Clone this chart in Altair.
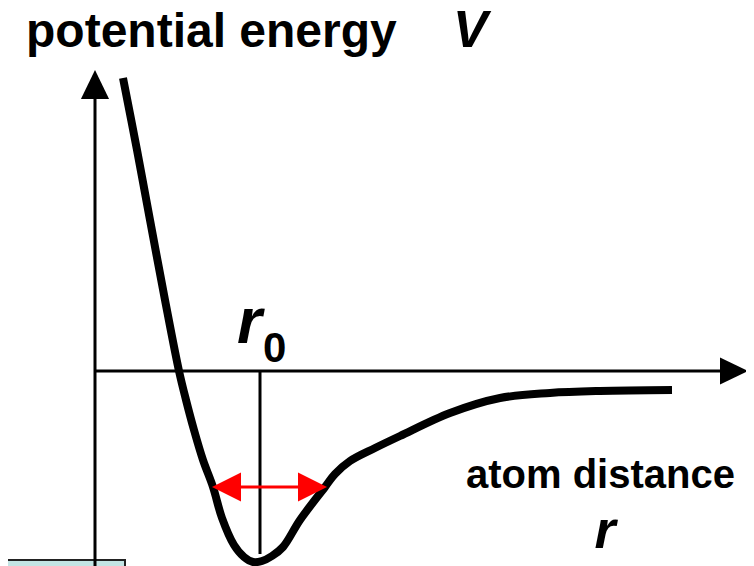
import altair as alt
import pandas as pd

# Potential curve V(r) (arbitrary units, r=0 / V=0 at the axes)
curve_r = [0.28, 0.42, 0.55, 0.70, 0.84, 0.91, 0.99, 1.08, 1.18, 1.27, 1.39, 1.49, 1.58,
           1.67, 1.77, 1.88, 2.05, 2.30, 2.40, 2.55, 2.80, 3.05, 3.55, 4.05, 4.55, 5.05, 5.77]
curve_V = [2.93, 2.21, 1.51, 0.71, 0.00, -0.29, -0.59, -0.89, -1.16, -1.47, -1.74, -1.86, -1.91,
           -1.90, -1.85, -1.76, -1.49, -1.16, -1.03, -0.90, -0.77, -0.65, -0.42, -0.27, -0.22, -0.20, -0.19]

# Equilibrium distance and oscillation range
r0 = 1.65
r0_line_V = [0.0, -1.83]
osc_r = [1.17, 2.32]
osc_V = -1.16

# Axis extents
r_domain = [-0.87, 6.51]
V_domain = [-1.95, 3.63]
y_axis_V = [-1.95, 2.72]
x_axis_r = [0.0, 6.25]

# Texts
title_text = "potential energy"
title_var = "V"
xlabel_text = "atom distance"
xlabel_var = "r"

X = alt.Scale(domain=r_domain, nice=False, zero=False)
Y = alt.Scale(domain=V_domain, nice=False, zero=False)
FONT = "Liberation Sans"


def enc(df, **kw):
    return dict(x=alt.X("r:Q", scale=X, axis=None), y=alt.Y("V:Q", scale=Y, axis=None), **kw)


layers = []

# light blue box at bottom left
box = pd.DataFrame({"r": [r_domain[0] - 0.2], "r2": [0.30], "V": [-1.89], "V2": [-2.6]})
layers.append(alt.Chart(box).mark_rect(fill="#c3e4e4", stroke="#222222", strokeWidth=2, clip=True).encode(
    x=alt.X("r:Q", scale=X, axis=None), x2="r2:Q",
    y=alt.Y("V:Q", scale=Y, axis=None), y2="V2:Q"))

# axes lines
yaxis = pd.DataFrame({"r": [0.0, 0.0], "V": y_axis_V})
layers.append(alt.Chart(yaxis).mark_line(color="black", strokeWidth=3).encode(**enc(yaxis)))
xaxis = pd.DataFrame({"r": x_axis_r, "V": [0.0, 0.0]})
layers.append(alt.Chart(xaxis).mark_line(color="black", strokeWidth=3).encode(**enc(xaxis)))

# arrow heads of axes
up = pd.DataFrame({"r": [0.0], "V": [2.865]})
layers.append(alt.Chart(up).mark_point(shape="M0,-1L0.97,1L-0.97,1Z", size=841, filled=True,
                                       color="black", opacity=1, strokeWidth=0).encode(**enc(up)))
right = pd.DataFrame({"r": [6.39], "V": [0.0]})
layers.append(alt.Chart(right).mark_point(shape="M1,0L-1,-0.97L-1,0.97Z", size=784, filled=True,
                                          color="black", opacity=1, strokeWidth=0).encode(**enc(right)))

# r0 vertical line
r0df = pd.DataFrame({"r": [r0, r0], "V": r0_line_V})
layers.append(alt.Chart(r0df).mark_line(color="black", strokeWidth=3).encode(**enc(r0df)))

# potential curve
cdf = pd.DataFrame({"r": curve_r, "V": curve_V})
layers.append(alt.Chart(cdf).mark_line(color="black", strokeWidth=8, interpolate="catmull-rom",
                                       strokeCap="butt", strokeJoin="round").encode(**enc(cdf)))

# red double arrow
odf = pd.DataFrame({"r": [osc_r[0] + 0.1, osc_r[1] - 0.1], "V": [osc_V, osc_V]})
layers.append(alt.Chart(odf).mark_line(color="#ff0000", strokeWidth=3).encode(**enc(odf)))
lh = pd.DataFrame({"r": [osc_r[0] + 0.145], "V": [osc_V]})
layers.append(alt.Chart(lh).mark_point(shape="M-1,0L1,-1L1,1Z", size=841, filled=True,
                                       color="#ff0000", opacity=1, strokeWidth=0).encode(**enc(lh)))
rh = pd.DataFrame({"r": [osc_r[1] - 0.145], "V": [osc_V]})
layers.append(alt.Chart(rh).mark_point(shape="M1,0L-1,-1L-1,1Z", size=841, filled=True,
                                       color="#ff0000", opacity=1, strokeWidth=0).encode(**enc(rh)))

# texts
def txt(r, V, s, size, style="normal", align="left"):
    d = pd.DataFrame({"r": [r], "V": [V], "t": [s]})
    return alt.Chart(d).mark_text(font=FONT, fontSize=size, fontWeight="bold", fontStyle=style,
                                  align=align, baseline="alphabetic", color="black").encode(
        **enc(d, text="t:N"))

layers.append(txt(-0.69, 3.24, title_text, 48))
layers.append(txt(3.58, 3.24, title_var, 52, "italic"))
layers.append(txt(1.42, 0.28, "r", 64, "italic"))
layers.append(txt(1.68, 0.09, "0", 42))
layers.append(txt(3.71, -1.17, xlabel_text, 40))
layers.append(txt(5.10, -1.77, xlabel_var, 54, "italic", "center"))

chart = alt.layer(*layers).properties(
    width=738, height=558, autosize=alt.AutoSizeParams(type="none"), padding=0,
    background="white"
).configure_view(strokeWidth=0)

chart.save("out.html", embed_options={"renderer": "svg", "actions": False})
